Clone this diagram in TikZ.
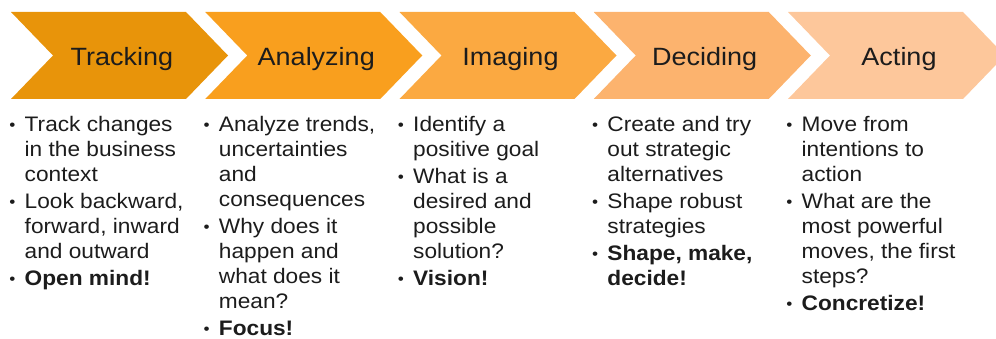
\documentclass[tikz,border=0pt]{standalone}
\usepackage{fontspec}
\setmainfont{Liberation Sans}[FakeStretch=1.08]
\definecolor{cA}{HTML}{E8940A}
\definecolor{cB}{HTML}{F99F1E}
\definecolor{cC}{HTML}{FBA941}
\definecolor{cD}{HTML}{FCB36E}
\definecolor{cE}{HTML}{FDC79B}
\definecolor{ink}{HTML}{1C1C1C}
\newcommand\bitem{\makebox[16pt][l]{\hspace{0.6pt}\raisebox{1.2pt}{\fontsize{16}{16}\selectfont •}}}
\newcommand\bcont{\makebox[16pt]{}}
\tikzset{
  chev/.style={draw=none},
  steptitle/.style={font=\fontsize{25}{30}\selectfont, text=ink, anchor=base, inner sep=0pt},
  stepbody/.style={font=\fontsize{21}{25}\selectfont, text=ink, anchor=north west, inner sep=0pt, align=left}
}
\begin{document}
\begin{tikzpicture}[x=1pt,y=-1pt]
\useasboundingbox (0,0) rectangle (996,339);
\clip (0,0) rectangle (996,339);
% chevrons
\foreach \i/\c in {0/cA,1/cB,2/cC,3/cD,4/cE}{
  \pgfmathsetmacro\L{11+194.25*\i}
  \fill[chev,\c] (\L,12) -- ++(175,0) -- ++(42,43.5) -- ++(-42,43.5) -- ++(-175,0) -- ++(42,-43.5) -- cycle;
}
% titles
\node[steptitle] (t1) at (122,66) {Tracking};
\node[steptitle] (t2) at (316.25,66) {Analyzing};
\node[steptitle] (t3) at (510.5,66) {Imaging};
\node[steptitle] (t4) at (704.75,66) {Deciding};
\node[steptitle] (t5) at (899,66) {Acting};
% bodies
\node[stepbody] (b1) at (8.5,114.2) {\strut\bitem Track changes\\ \bcont in the business\\ \bcont context\\[2pt]
 \bitem Look backward,\\ \bcont forward, inward\\ \bcont and outward\\[2pt]
 \bitem\textbf{Open mind!}};
\node[stepbody] (b2) at (202.75,114.2) {\strut\bitem Analyze trends,\\ \bcont uncertainties\\ \bcont and\\ \bcont consequences\\[2pt]
 \bitem Why does it\\ \bcont happen and\\ \bcont what does it\\ \bcont mean?\\[2pt]
 \bitem\textbf{Focus!}};
\node[stepbody] (b3) at (397,114.2) {\strut\bitem Identify a\\ \bcont positive goal\\[2pt]
 \bitem What is a\\ \bcont desired and\\ \bcont possible\\ \bcont solution?\\[2pt]
 \bitem\textbf{Vision!}};
\node[stepbody] (b4) at (591.25,114.2) {\strut\bitem Create and try\\ \bcont out strategic\\ \bcont alternatives\\[2pt]
 \bitem Shape robust\\ \bcont strategies\\[2pt]
 \bitem\textbf{Shape, make,}\\ \bcont\textbf{decide!}};
\node[stepbody] (b5) at (785.5,114.2) {\strut\bitem Move from\\ \bcont intentions to\\ \bcont action\\[2pt]
 \bitem What are the\\ \bcont most powerful\\ \bcont moves, the first\\ \bcont steps?\\[2pt]
 \bitem\textbf{Concretize!}};
\end{tikzpicture}
\end{document}
